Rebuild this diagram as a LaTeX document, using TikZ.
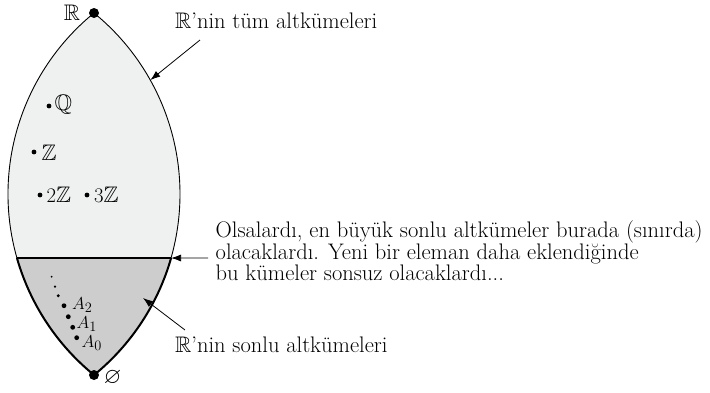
\documentclass[tikz,border=0pt]{standalone}
\usepackage{fontspec}
\usepackage{amssymb}
\usetikzlibrary{arrows.meta,calc}
\definecolor{upfill}{RGB}{239,240,240}
\definecolor{lowfill}{RGB}{205,205,205}
\begin{document}
\begin{tikzpicture}[x=1pt,y=1pt,
  txt/.style={font=\fontsize{22.5}{19.5}\selectfont, inner sep=0pt},
  atxt/.style={font=\fontsize{19}{19}\selectfont, inner sep=0pt, anchor=base west},
  bigdot/.style={circle, fill=black, inner sep=0pt, minimum size=10pt},
  smalldot/.style={circle, fill=black, inner sep=0pt, minimum size=4.8pt},
  tinydot/.style={circle, fill=black, inner sep=0pt, minimum size=#1},
  arr/.style={-{Latex[length=10pt,width=7pt]}, line width=0.8pt},
]
\useasboundingbox (0,0) rectangle (710,-392);
\coordinate (cl) at (241.5,-194);
\coordinate (cr) at (-53.5,-194);
\coordinate (top) at (94,-13);
\coordinate (bot) at (94,-375);
\coordinate (L) at ($(cl)+(195.91:233.5)$);
\coordinate (R) at ($(cr)+(-15.91:233.5)$);
% upper region
\fill[upfill] (top) arc[start angle=129.17, end angle=195.91, radius=233.5]
  -- (R) arc[start angle=-15.91, end angle=50.83, radius=233.5] -- cycle;
% lower region
\fill[lowfill] (L) arc[start angle=195.91, end angle=230.83, radius=233.5]
  arc[start angle=-50.83, end angle=-15.91, radius=233.5] -- cycle;
% outlines
\draw[line width=0.9pt] (top) arc[start angle=129.17, end angle=195.91, radius=233.5];
\draw[line width=0.9pt] (R) arc[start angle=-15.91, end angle=50.83, radius=233.5];
\draw[line width=2pt, line join=round] (L) arc[start angle=195.91, end angle=230.83, radius=233.5]
  arc[start angle=-50.83, end angle=-15.91, radius=233.5];
\draw[line width=2pt] (L) -- (R);
% endpoints
\node[bigdot] (rdot) at (top) {};
\node[bigdot] (edot) at (bot) {};
\node[txt, anchor=base] (rlab) at (72,-20.5) {$\mathbb{R}$};
\node[txt] (elab) at (112.5,-377.5) {$\varnothing$};
% points in upper region
\node[smalldot] (qdot) at (49,-106) {};
\node[txt, anchor=west] (qlab) at (54.5,-104.5) {$\mathbb{Q}$};
\node[smalldot] (zdot) at (34,-152) {};
\node[txt, anchor=west] (zlab) at (41.5,-152.5) {$\mathbb{Z}$};
\node[smalldot] (z2dot) at (40,-195) {};
\node[txt, anchor=west] (z2lab) at (46.5,-195) {$2\mathbb{Z}$};
\node[smalldot] (z3dot) at (87,-195) {};
\node[txt, anchor=west] (z3lab) at (94,-195) {$3\mathbb{Z}$};
% finite sets
\node[tinydot=2pt] (t1) at (51.7,-276.7) {};
\node[tinydot=2.5pt] (t2) at (55,-286.7) {};
\node[tinydot=3.2pt] (t3) at (58.3,-295.7) {};
\node[smalldot] (d2) at (64,-305.7) {};
\node[smalldot] (d1) at (68.3,-316.7) {};
\node[smalldot] (d0) at (72.7,-327.3) {};
\node[smalldot] (dm) at (76.7,-337.7) {};
\node[atxt] (a2) at (72,-309) {$A_2$};
\node[atxt] (a1) at (76.5,-328.5) {$A_1$};
\node[atxt] (a0) at (81.5,-347.5) {$A_0$};
% labels
\node[txt, anchor=base west] (lall) at (175,-28) {$\mathbb{R}$’nin tüm altkümeleri};
\node[txt, anchor=base west] (lfin) at (175,-352) {$\mathbb{R}$’nin sonlu altkümeleri};
\node[txt, anchor=north west, align=left] (lmax) at (215.5,-220)
  {Olsalardı, en büyük sonlu altkümeler burada (sınırda)\\
   olacaklardı. Yeni bir eleman daha eklendiğinde\\
   bu kümeler sonsuz olacaklardı...};
% arrows
\coordinate (a1s) at (200,-40);
\coordinate (a1e) at ($(cr)+(29.2:233.5)$);
\draw[arr] (a1s) -- (a1e);
\coordinate (a2s) at (208,-258);
\draw[arr] (a2s) -- (R);
\coordinate (a3s) at (185,-330);
\coordinate (a3e) at (143,-298);
\draw[arr] (a3s) -- (a3e);
\end{tikzpicture}
\end{document}
